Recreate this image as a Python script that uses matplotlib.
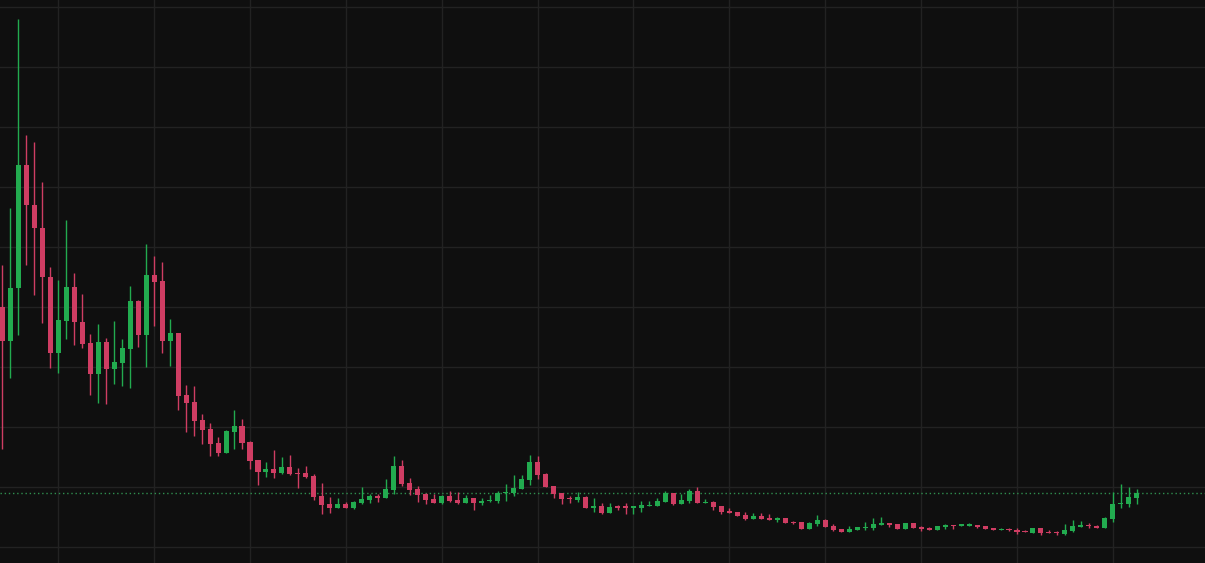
import matplotlib
matplotlib.use("Agg")
import matplotlib.pyplot as plt
import numpy as np

# OHLC values (arbitrary price units)
opens = [40.0, 34.4, 43.2, 63.7, 57.0, 53.2, 45.0, 32.4, 37.7, 43.3,
         37.5, 34.0, 28.9, 34.2, 29.7, 30.7, 33.1, 41.0, 35.4, 45.3,
         44.3, 34.4, 35.7, 25.3, 24.2, 21.2, 19.7, 17.3, 15.7, 19.2,
         20.2, 17.5, 14.5, 12.5, 13.0, 12.4, 13.3, 12.3, 12.3, 11.8,
         8.5, 7.2, 6.5, 7.2, 6.5, 7.3, 7.8, 8.5, 8.2, 9.5,
         13.5, 10.7, 9.7, 8.8, 8.0, 7.3, 8.5, 7.8, 7.3, 8.2,
         7.3, 7.7, 7.7, 9.0, 9.0, 9.7, 11.2, 14.2, 12.2, 10.2,
         9.0, 8.1, 7.8, 8.3, 6.5, 6.8, 5.7, 6.7, 6.7, 6.6,
         6.5, 6.9, 6.8, 7.5, 9.0, 7.2, 7.7, 9.3, 7.3, 7.5,
         6.8, 6.0, 5.8, 5.3, 4.7, 5.2, 4.8, 4.5, 4.8, 4.1,
         4.2, 3.0, 3.8, 4.5, 3.5, 3.0, 2.5, 2.8, 3.2, 3.2,
         3.7, 4.0, 3.8, 3.0, 4.0, 3.3, 3.2, 2.8, 3.3, 3.7,
         3.6, 3.6, 3.7, 3.5, 3.2, 2.8, 3.0, 2.8, 2.7, 2.3,
         3.2, 2.5, 2.4, 2.2, 2.7, 3.3, 3.7, 3.5, 3.2, 4.7,
         7.2, 7.2, 8.2]
highs = [47.0, 56.5, 88.0, 68.7, 67.5, 60.8, 46.7, 44.5, 54.5, 45.7,
         42.2, 35.5, 37.2, 34.8, 37.7, 34.7, 43.5, 41.2, 50.5, 48.5,
         47.5, 38.0, 35.7, 27.0, 26.8, 22.2, 20.7, 18.3, 19.5, 22.8,
         21.3, 17.7, 14.5, 14.2, 16.2, 15.0, 15.3, 13.2, 13.5, 12.2,
         10.7, 8.3, 8.2, 7.5, 7.7, 10.0, 8.8, 8.8, 11.3, 15.2,
         14.5, 11.5, 10.2, 9.0, 8.8, 8.7, 9.3, 9.2, 8.7, 8.2,
         8.2, 8.7, 9.3, 10.5, 12.0, 12.0, 15.3, 15.2, 12.3, 10.2,
         9.0, 8.5, 9.2, 8.5, 8.2, 7.3, 7.3, 7.0, 7.3, 6.8,
         7.7, 7.7, 8.2, 9.3, 9.0, 8.8, 9.7, 10.0, 8.0, 7.7,
         6.8, 6.5, 5.8, 5.8, 5.7, 5.7, 5.5, 5.0, 4.8, 4.3,
         4.2, 4.2, 5.3, 4.7, 3.8, 3.0, 3.5, 3.3, 4.2, 4.8,
         5.0, 4.0, 3.8, 4.0, 4.0, 3.5, 3.3, 3.5, 3.8, 3.7,
         3.8, 4.0, 3.7, 3.5, 3.2, 3.2, 3.2, 3.2, 2.8, 3.2,
         3.2, 2.8, 2.7, 3.8, 4.5, 4.3, 4.0, 3.7, 5.0, 9.2,
         10.5, 10.0, 9.7]
lows = [16.4, 28.2, 35.4, 47.0, 42.1, 37.4, 29.9, 29.0, 34.7, 33.7,
        33.2, 25.4, 24.0, 23.9, 27.2, 26.9, 26.6, 33.4, 30.0, 36.9,
        32.4, 30.2, 22.9, 19.2, 18.6, 17.2, 15.2, 15.2, 15.7, 16.4,
        16.4, 13.0, 10.4, 11.7, 11.5, 12.2, 12.0, 9.9, 11.5, 7.9,
        5.5, 5.7, 6.5, 6.5, 6.4, 7.2, 7.3, 7.5, 8.2, 8.8,
        10.2, 8.7, 7.5, 7.2, 7.3, 7.2, 7.5, 7.2, 7.3, 6.2,
        7.0, 7.5, 7.3, 7.7, 8.5, 9.7, 10.3, 11.3, 10.0, 8.2,
        7.2, 7.3, 7.5, 6.5, 5.8, 5.5, 5.7, 6.2, 5.5, 5.5,
        5.8, 6.9, 6.8, 7.5, 7.0, 7.2, 7.3, 7.3, 7.3, 6.2,
        5.5, 5.7, 5.2, 4.5, 4.7, 4.7, 4.5, 4.2, 4.0, 3.8,
        3.0, 3.0, 3.5, 3.3, 2.7, 2.5, 2.5, 2.8, 2.8, 2.8,
        3.7, 3.3, 3.0, 3.0, 3.2, 2.7, 2.8, 2.8, 3.0, 3.0,
        3.6, 3.6, 3.2, 3.0, 2.8, 2.8, 2.7, 2.2, 2.5, 2.3,
        2.0, 2.3, 2.0, 2.0, 2.5, 3.3, 3.2, 3.2, 3.2, 4.2,
        6.5, 6.7, 7.2]
closes = [34.4, 43.2, 63.7, 57.0, 53.2, 45.0, 32.4, 37.8, 43.3, 37.5,
          33.9, 28.9, 34.2, 29.7, 30.8, 33.2, 41.0, 35.4, 45.3, 44.2,
          34.4, 35.7, 25.2, 24.0, 21.0, 19.5, 17.2, 15.7, 19.3, 20.2,
          17.4, 14.4, 12.5, 13.0, 12.4, 13.3, 12.2, 12.2, 11.7, 8.4,
          7.0, 6.5, 7.2, 6.5, 7.5, 8.0, 8.5, 8.2, 9.7, 13.5,
          10.5, 9.5, 8.7, 7.8, 7.3, 8.5, 7.7, 7.3, 8.2, 7.3,
          7.7, 7.8, 9.0, 9.2, 9.8, 11.3, 14.2, 12.0, 10.0, 8.9,
          8.0, 8.0, 8.3, 6.5, 6.8, 5.7, 6.7, 6.6, 6.6, 6.7,
          7.0, 7.0, 7.7, 9.0, 7.2, 7.8, 9.3, 7.3, 7.5, 6.7,
          5.8, 5.7, 5.2, 4.7, 5.2, 4.7, 4.5, 4.8, 4.0, 4.0,
          3.0, 4.0, 4.5, 3.3, 2.8, 2.5, 3.0, 3.3, 3.3, 3.8,
          4.0, 3.7, 3.0, 4.0, 3.2, 3.0, 2.8, 3.5, 3.7, 3.5,
          3.7, 3.7, 3.3, 3.0, 2.8, 3.0, 2.8, 2.5, 2.5, 3.2,
          2.3, 2.3, 2.3, 2.8, 3.5, 3.7, 3.5, 3.2, 4.8, 7.2,
          7.3, 8.3, 9.0]

up_color = "#22ab4f"
down_color = "#cf3d63"
bg = "#0f0f0f"
grid_color = "#222222"

o = np.array(opens); h = np.array(highs); l = np.array(lows); c = np.array(closes)
x = np.arange(len(o))
colors = np.where(c >= o, up_color, down_color)

fig = plt.figure(figsize=(12.05, 5.63), dpi=100, facecolor=bg)
ax = fig.add_axes([0, 0, 1, 1])
ax.set_facecolor(bg)

ax.set_xlim(-0.29, 150.53)
ax.set_ylim(-2.65, 91.2)

# grid
for gy in range(0, 100, 10):
    ax.axhline(gy, color=grid_color, lw=1, zorder=0)
for gx in range(7, len(o) + 12, 12):
    ax.axvline(gx, color=grid_color, lw=1, zorder=0)

# wicks
ax.vlines(x, l, h, colors=colors, lw=1, zorder=2)
# bodies
bottoms = np.minimum(o, c)
heights = np.maximum(np.abs(c - o), 0.17)
ax.bar(x, heights, bottom=bottoms, width=0.63, color=colors, linewidth=0, zorder=3)

# last price line
ax.axhline(c[-1], color="#2f8f4f", lw=1, linestyle=(0, (1, 2)), zorder=1)

for s in ax.spines.values():
    s.set_visible(False)
ax.set_xticks([]); ax.set_yticks([])

fig.savefig("out.png", dpi=100, facecolor=bg)
